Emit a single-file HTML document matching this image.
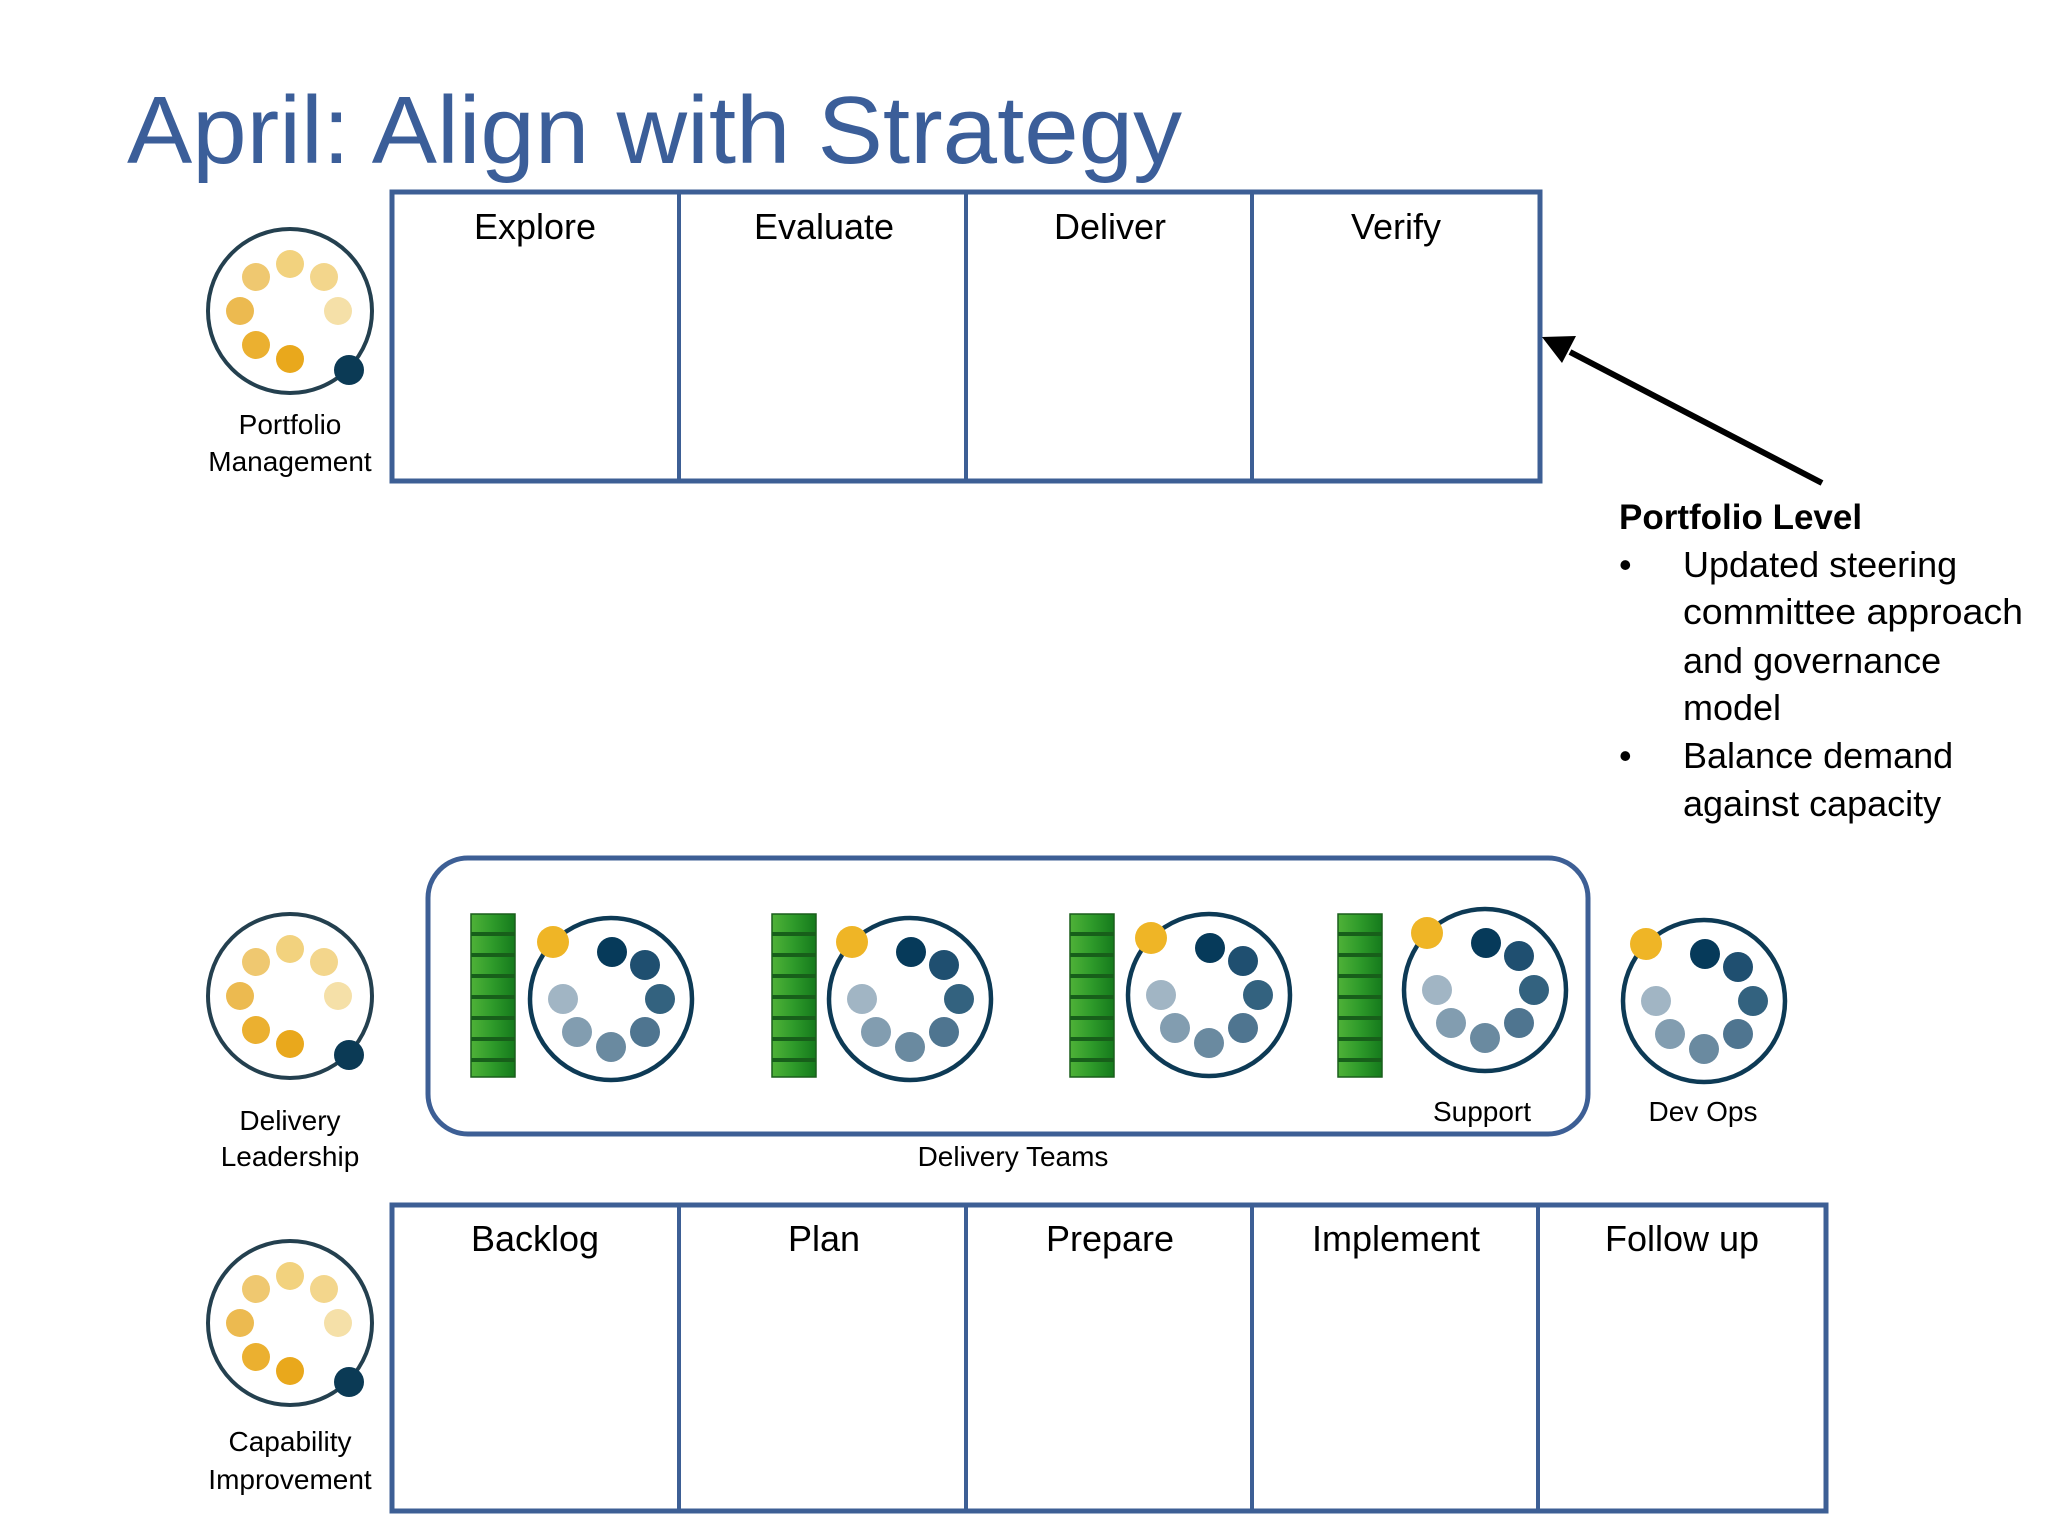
<!DOCTYPE html>
<html><head><meta charset="utf-8"><style>
html,body{margin:0;padding:0;background:#fff;}
svg{display:block;}
text{font-family:"Liberation Sans",sans-serif;}
</style></head><body>
<svg width="2048" height="1536" viewBox="0 0 2048 1536" xmlns="http://www.w3.org/2000/svg">
<defs>
<linearGradient id="gr" x1="0" x2="1" y1="0" y2="0">
<stop offset="0" stop-color="#4fb238"/><stop offset="0.5" stop-color="#2e9a2a"/><stop offset="1" stop-color="#157a1c"/>
</linearGradient>
<g id="pm">
<circle cx="0" cy="0" r="82" fill="#fff" stroke="#24404f" stroke-width="4"/>
<circle cx="0" cy="-47" r="14" fill="#f2d27e"/>
<circle cx="34" cy="-34" r="14" fill="#f3d68c"/>
<circle cx="48" cy="0" r="14" fill="#f5e0a8"/>
<circle cx="-34" cy="-34" r="14" fill="#efc870"/>
<circle cx="-50" cy="0" r="14" fill="#ecba50"/>
<circle cx="-34" cy="34" r="14" fill="#ebb030"/>
<circle cx="0" cy="48" r="14" fill="#e9a81c"/>
<circle cx="59" cy="59" r="15" fill="#0b3a55"/>
</g>
<g id="tm">
<circle cx="0" cy="0" r="81" fill="#fff" stroke="#0d3a55" stroke-width="4.5"/>
<circle cx="1" cy="-47" r="15" fill="#063a5a"/>
<circle cx="34" cy="-34" r="15" fill="#1f4f70"/>
<circle cx="49" cy="0" r="15" fill="#33627f"/>
<circle cx="34" cy="33" r="15" fill="#4f7590"/>
<circle cx="0" cy="48" r="15" fill="#6a8aa0"/>
<circle cx="-34" cy="33" r="15" fill="#829db0"/>
<circle cx="-48" cy="0" r="15" fill="#a1b5c4"/>
<circle cx="-58" cy="-57" r="16" fill="#efb526"/>
</g>
<g id="bar">
<rect x="0" y="0" width="44" height="163" fill="url(#gr)" stroke="#1a5e1c" stroke-width="1.5"/>
<g fill="#175f1a">
<rect x="0" y="18" width="44" height="4"/><rect x="0" y="39" width="44" height="4"/><rect x="0" y="60" width="44" height="4"/><rect x="0" y="81" width="44" height="4"/><rect x="0" y="102" width="44" height="4"/><rect x="0" y="123" width="44" height="4"/><rect x="0" y="144" width="44" height="4"/>
</g>
</g>
</defs>

<text x="127" y="163" font-size="96" fill="#3b5e99" textLength="1055" lengthAdjust="spacingAndGlyphs">April: Align with Strategy</text>

<!-- top table -->
<g stroke="#3d5f95" fill="none">
<rect x="392" y="192" width="1148" height="289" stroke-width="5"/>
<line x1="679" y1="192" x2="679" y2="481" stroke-width="4"/>
<line x1="966" y1="192" x2="966" y2="481" stroke-width="4"/>
<line x1="1252" y1="192" x2="1252" y2="481" stroke-width="4"/>
</g>
<g font-size="36" fill="#000" text-anchor="middle">
<text x="535" y="239">Explore</text>
<text x="824" y="239">Evaluate</text>
<text x="1110" y="239">Deliver</text>
<text x="1396" y="239">Verify</text>
</g>

<use href="#pm" x="290" y="311"/>
<g font-size="28" fill="#000" text-anchor="middle">
<text x="290" y="434">Portfolio</text>
<text x="290" y="471">Management</text>
</g>

<!-- arrow -->
<line x1="1822" y1="483" x2="1570" y2="352" stroke="#000" stroke-width="6"/>
<polygon points="1542,337 1576,336 1562,363" fill="#000"/>

<text x="1619" y="529" font-size="35" font-weight="bold" fill="#000">Portfolio Level</text>
<g font-size="36" fill="#000">
<text x="1619" y="577">•</text>
<text x="1683" y="577">Updated steering</text>
<text x="1683" y="624" textLength="340" lengthAdjust="spacingAndGlyphs">committee approach</text>
<text x="1683" y="673">and governance</text>
<text x="1683" y="720">model</text>
<text x="1619" y="768">•</text>
<text x="1683" y="768">Balance demand</text>
<text x="1683" y="816">against capacity</text>
</g>

<!-- delivery teams -->
<rect x="428" y="858" width="1160" height="276" rx="40" fill="none" stroke="#3d5f95" stroke-width="5"/>
<use href="#bar" x="471" y="914"/>
<use href="#bar" x="772" y="914"/>
<use href="#bar" x="1070" y="914"/>
<use href="#bar" x="1338" y="914"/>
<use href="#tm" x="611" y="999"/>
<use href="#tm" x="910" y="999"/>
<use href="#tm" x="1209" y="995"/>
<use href="#tm" x="1485" y="990"/>
<use href="#tm" x="1704" y="1001"/>
<g font-size="28" fill="#000" text-anchor="middle">
<text x="1482" y="1121">Support</text>
<text x="1703" y="1121">Dev Ops</text>
<text x="1013" y="1166">Delivery Teams</text>
</g>

<use href="#pm" x="290" y="996"/>
<g font-size="28" fill="#000" text-anchor="middle">
<text x="290" y="1130">Delivery</text>
<text x="290" y="1166">Leadership</text>
</g>

<use href="#pm" x="290" y="1323"/>
<g font-size="28" fill="#000" text-anchor="middle">
<text x="290" y="1451">Capability</text>
<text x="290" y="1489">Improvement</text>
</g>

<!-- bottom table -->
<g stroke="#3d5f95" fill="none">
<rect x="392" y="1205" width="1434" height="306" stroke-width="5"/>
<line x1="679" y1="1205" x2="679" y2="1511" stroke-width="4"/>
<line x1="966" y1="1205" x2="966" y2="1511" stroke-width="4"/>
<line x1="1252" y1="1205" x2="1252" y2="1511" stroke-width="4"/>
<line x1="1538" y1="1205" x2="1538" y2="1511" stroke-width="4"/>
</g>
<g font-size="36" fill="#000" text-anchor="middle">
<text x="535" y="1251">Backlog</text>
<text x="824" y="1251">Plan</text>
<text x="1110" y="1251">Prepare</text>
<text x="1396" y="1251">Implement</text>
<text x="1682" y="1251">Follow up</text>
</g>
</svg>
</body></html>
